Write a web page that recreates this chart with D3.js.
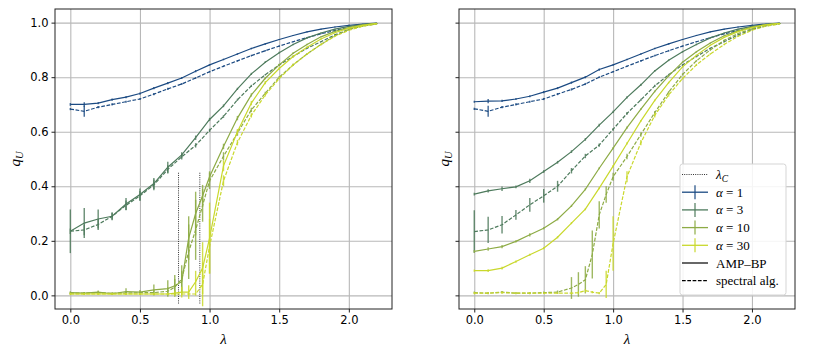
<!DOCTYPE html>
<html>
<head>
<meta charset="utf-8">
<script src="https://cdn.jsdelivr.net/npm/d3@7"></script>
<style>
  body { margin: 0; background: #fff; }
  svg { display: block; }
</style>
</head>
<body>
<div id="grafico"></div>
<script>
// lambda grids
const lam = [0, 0.1, 0.2, 0.3, 0.4, 0.5, 0.6, 0.7, 0.8, 0.9, 1.0, 1.1, 1.2, 1.3, 1.4, 1.5, 1.6, 1.7, 1.8, 1.9, 2.0, 2.1, 2.2];
const lamFine = [0, 0.1, 0.2, 0.3, 0.4, 0.5, 0.6, 0.7, 0.75, 0.8, 0.85, 0.9, 0.95, 1.0, 1.1, 1.2, 1.3, 1.4, 1.5, 1.6, 1.7, 1.8, 1.9, 2.0, 2.1, 2.2];

const alphas = ["1", "3", "10", "30"];
const colores = ["#1b4a82", "#4d7a5c", "#8dab45", "#c9d82c"];

// panel izquierdo (AMP-BP = linea, espectral = guiones)
const L_amp_a1 = [0.700, 0.700, 0.705, 0.718, 0.727, 0.740, 0.760, 0.778, 0.797, 0.822, 0.845, 0.865, 0.885, 0.905, 0.922, 0.938, 0.953, 0.966, 0.976, 0.984, 0.990, 0.995, 0.998];
const L_amp_a1_err = [0.005, 0.008, 0.004, 0.004, 0.004, 0.004, 0.004, 0.004, 0.004, 0.004, 0.003, 0.003, 0.003, 0.003, 0.003, 0.002, 0.002, 0.002, 0.002, 0.002, 0.002, 0.001, 0.001];
const L_spec_a1 = [0.683, 0.675, 0.690, 0.700, 0.710, 0.720, 0.738, 0.757, 0.775, 0.797, 0.820, 0.840, 0.860, 0.879, 0.897, 0.914, 0.930, 0.945, 0.959, 0.971, 0.982, 0.990, 0.997];
const L_spec_a1_err = [0.004, 0.020, 0.004, 0.004, 0.004, 0.004, 0.004, 0.004, 0.004, 0.003, 0.003, 0.003, 0.003, 0.003, 0.003, 0.002, 0.002, 0.002, 0.002, 0.002, 0.002, 0.001, 0.001];

const L_amp_a3 = [0.235, 0.265, 0.280, 0.290, 0.335, 0.370, 0.410, 0.470, 0.515, 0.578, 0.645, 0.695, 0.757, 0.812, 0.855, 0.890, 0.920, 0.944, 0.962, 0.976, 0.986, 0.993, 0.997];
const L_amp_a3_err = [0.080, 0.055, 0.035, 0.015, 0.022, 0.022, 0.020, 0.020, 0.010, 0.008, 0.006, 0.005, 0.004, 0.004, 0.003, 0.003, 0.003, 0.002, 0.002, 0.002, 0.002, 0.001, 0.001];
const L_spec_a3 = [0.235, 0.240, 0.260, 0.290, 0.330, 0.365, 0.405, 0.462, 0.508, 0.550, 0.605, 0.656, 0.717, 0.768, 0.809, 0.845, 0.876, 0.906, 0.930, 0.955, 0.975, 0.988, 0.996];
const L_spec_a3_err = [0.010, 0.020, 0.020, 0.012, 0.018, 0.018, 0.020, 0.015, 0.010, 0.008, 0.006, 0.005, 0.004, 0.004, 0.003, 0.003, 0.003, 0.002, 0.002, 0.002, 0.002, 0.001, 0.001];

const L_amp_a10 = [0.010, 0.008, 0.012, 0.006, 0.014, 0.012, 0.020, 0.025, 0.035, 0.050, 0.210, 0.300, 0.365, 0.435, 0.546, 0.650, 0.735, 0.796, 0.845, 0.888, 0.920, 0.948, 0.968, 0.982, 0.992, 0.997];
const L_amp_a10_err = [0.005, 0.004, 0.006, 0.004, 0.012, 0.008, 0.020, 0.030, 0.040, 0.040, 0.080, 0.080, 0.040, 0.020, 0.010, 0.008, 0.006, 0.004, 0.004, 0.003, 0.003, 0.002, 0.002, 0.002, 0.001, 0.001];
const L_spec_a10 = [0.008, 0.008, 0.010, 0.008, 0.008, 0.010, 0.010, 0.015, 0.030, 0.060, 0.160, 0.240, 0.330, 0.420, 0.510, 0.595, 0.680, 0.741, 0.800, 0.845, 0.885, 0.920, 0.952, 0.975, 0.988, 0.995];
const L_spec_a10_err = [0.004, 0.004, 0.004, 0.004, 0.004, 0.004, 0.010, 0.015, 0.030, 0.050, 0.100, 0.110, 0.060, 0.030, 0.015, 0.010, 0.008, 0.006, 0.004, 0.004, 0.003, 0.003, 0.002, 0.002, 0.001, 0.001];

const L_amp_a30 = [0.005, 0.005, 0.006, 0.005, 0.005, 0.005, 0.005, 0.005, 0.008, 0.012, 0.012, 0.050, 0.100, 0.210, 0.475, 0.600, 0.705, 0.780, 0.832, 0.876, 0.910, 0.940, 0.963, 0.980, 0.990, 0.997];
const L_amp_a30_err = [0.004, 0.004, 0.004, 0.004, 0.004, 0.004, 0.004, 0.004, 0.010, 0.020, 0.025, 0.040, 0.095, 0.130, 0.020, 0.010, 0.008, 0.006, 0.004, 0.004, 0.003, 0.003, 0.002, 0.002, 0.001, 0.001];
const L_spec_a30 = [0.005, 0.005, 0.005, 0.005, 0.005, 0.005, 0.005, 0.005, 0.005, 0.005, 0.005, 0.005, 0.040, 0.180, 0.420, 0.560, 0.660, 0.735, 0.795, 0.845, 0.885, 0.920, 0.950, 0.972, 0.987, 0.995];
const L_spec_a30_err = [0.003, 0.003, 0.003, 0.003, 0.003, 0.003, 0.003, 0.003, 0.004, 0.004, 0.004, 0.006, 0.080, 0.100, 0.020, 0.010, 0.008, 0.006, 0.004, 0.004, 0.003, 0.003, 0.002, 0.002, 0.001, 0.001];

const L_lambdaC = [0.777, 0.930];

// panel derecho
const R_amp_a1 = [0.710, 0.712, 0.713, 0.720, 0.730, 0.745, 0.760, 0.780, 0.800, 0.828, 0.845, 0.865, 0.885, 0.905, 0.922, 0.938, 0.953, 0.966, 0.976, 0.984, 0.990, 0.995, 0.998];
const R_amp_a1_err = [0.004, 0.008, 0.004, 0.004, 0.004, 0.004, 0.004, 0.004, 0.004, 0.004, 0.003, 0.003, 0.003, 0.003, 0.003, 0.002, 0.002, 0.002, 0.002, 0.002, 0.002, 0.001, 0.001];
const R_spec_a1 = [0.684, 0.675, 0.690, 0.700, 0.710, 0.720, 0.738, 0.755, 0.775, 0.800, 0.820, 0.840, 0.860, 0.879, 0.897, 0.914, 0.930, 0.945, 0.959, 0.971, 0.982, 0.990, 0.997];
const R_spec_a1_err = [0.004, 0.020, 0.004, 0.004, 0.004, 0.004, 0.004, 0.004, 0.004, 0.003, 0.003, 0.003, 0.003, 0.003, 0.003, 0.002, 0.002, 0.002, 0.002, 0.002, 0.002, 0.001, 0.001];

const R_amp_a3 = [0.371, 0.383, 0.391, 0.398, 0.420, 0.454, 0.488, 0.527, 0.572, 0.624, 0.673, 0.726, 0.772, 0.823, 0.862, 0.893, 0.920, 0.944, 0.962, 0.976, 0.986, 0.993, 0.997];
const R_amp_a3_err = [0.005, 0.006, 0.008, 0.005, 0.008, 0.005, 0.005, 0.005, 0.005, 0.005, 0.004, 0.004, 0.004, 0.003, 0.003, 0.003, 0.003, 0.002, 0.002, 0.002, 0.002, 0.001, 0.001];
const R_spec_a3 = [0.234, 0.240, 0.259, 0.295, 0.332, 0.365, 0.400, 0.457, 0.511, 0.551, 0.609, 0.667, 0.717, 0.768, 0.809, 0.845, 0.876, 0.906, 0.930, 0.955, 0.975, 0.988, 0.996];
const R_spec_a3_err = [0.078, 0.048, 0.032, 0.018, 0.025, 0.025, 0.020, 0.010, 0.008, 0.006, 0.005, 0.005, 0.004, 0.004, 0.003, 0.003, 0.003, 0.002, 0.002, 0.002, 0.002, 0.001, 0.001];

const R_amp_a10 = [0.161, 0.170, 0.179, 0.198, 0.222, 0.246, 0.279, 0.328, 0.389, 0.466, 0.540, 0.615, 0.683, 0.748, 0.805, 0.855, 0.893, 0.925, 0.952, 0.970, 0.984, 0.993, 0.997];
const R_amp_a10_err = [0.005, 0.006, 0.006, 0.004, 0.006, 0.004, 0.004, 0.004, 0.004, 0.004, 0.004, 0.004, 0.003, 0.003, 0.003, 0.003, 0.003, 0.002, 0.002, 0.002, 0.002, 0.001, 0.001];
const R_spec_a10 = [0.010, 0.008, 0.012, 0.008, 0.008, 0.010, 0.012, 0.027, 0.040, 0.057, 0.150, 0.295, 0.370, 0.435, 0.509, 0.590, 0.670, 0.745, 0.810, 0.860, 0.900, 0.935, 0.960, 0.978, 0.990, 0.996];
const R_spec_a10_err = [0.004, 0.004, 0.004, 0.004, 0.004, 0.004, 0.006, 0.040, 0.045, 0.050, 0.088, 0.050, 0.030, 0.015, 0.010, 0.008, 0.006, 0.004, 0.004, 0.003, 0.003, 0.002, 0.002, 0.002, 0.001, 0.001];

const R_amp_a30 = [0.091, 0.091, 0.100, 0.124, 0.149, 0.173, 0.213, 0.265, 0.316, 0.393, 0.474, 0.557, 0.640, 0.715, 0.780, 0.838, 0.880, 0.917, 0.946, 0.967, 0.982, 0.992, 0.997];
const R_amp_a30_err = [0.004, 0.005, 0.005, 0.004, 0.004, 0.004, 0.004, 0.004, 0.004, 0.004, 0.004, 0.004, 0.003, 0.003, 0.003, 0.003, 0.003, 0.002, 0.002, 0.002, 0.002, 0.001, 0.001];
const R_spec_a30 = [0.008, 0.008, 0.010, 0.008, 0.008, 0.008, 0.008, 0.008, 0.010, 0.017, 0.012, 0.008, 0.040, 0.190, 0.435, 0.560, 0.660, 0.735, 0.795, 0.845, 0.885, 0.920, 0.950, 0.972, 0.987, 0.995];
const R_spec_a30_err = [0.004, 0.003, 0.004, 0.003, 0.003, 0.003, 0.003, 0.004, 0.004, 0.006, 0.004, 0.004, 0.050, 0.100, 0.020, 0.010, 0.008, 0.006, 0.004, 0.004, 0.003, 0.003, 0.002, 0.002, 0.001, 0.001];

const xTicks = [0, 0.5, 1.0, 1.5, 2.0];
const yTicks = [0, 0.2, 0.4, 0.6, 0.8, 1.0];

const legendLabels = ["AMP\u2013BP", "spectral alg."];

const paneles = [
  {
    left: 55, right: 392, ylabels: true, lambdaC: L_lambdaC, legend: false,
    series: [
      { a: 0, dash: false, x: lam, y: L_amp_a1, e: L_amp_a1_err },
      { a: 0, dash: true, x: lam, y: L_spec_a1, e: L_spec_a1_err },
      { a: 1, dash: false, x: lam, y: L_amp_a3, e: L_amp_a3_err },
      { a: 1, dash: true, x: lam, y: L_spec_a3, e: L_spec_a3_err },
      { a: 2, dash: false, x: lamFine, y: L_amp_a10, e: L_amp_a10_err },
      { a: 2, dash: true, x: lamFine, y: L_spec_a10, e: L_spec_a10_err },
      { a: 3, dash: false, x: lamFine, y: L_amp_a30, e: L_amp_a30_err },
      { a: 3, dash: true, x: lamFine, y: L_spec_a30, e: L_spec_a30_err },
    ],
  },
  {
    left: 459, right: 795, ylabels: false, lambdaC: [], legend: true,
    series: [
      { a: 0, dash: false, x: lam, y: R_amp_a1, e: R_amp_a1_err },
      { a: 0, dash: true, x: lam, y: R_spec_a1, e: R_spec_a1_err },
      { a: 1, dash: false, x: lam, y: R_amp_a3, e: R_amp_a3_err },
      { a: 1, dash: true, x: lam, y: R_spec_a3, e: R_spec_a3_err },
      { a: 2, dash: false, x: lam, y: R_amp_a10, e: R_amp_a10_err },
      { a: 2, dash: true, x: lamFine, y: R_spec_a10, e: R_spec_a10_err },
      { a: 3, dash: false, x: lam, y: R_amp_a30, e: R_amp_a30_err },
      { a: 3, dash: true, x: lamFine, y: R_spec_a30, e: R_spec_a30_err },
    ],
  },
];

const width = 831;
const height = 357;
const plotTop = 9;
const plotBottom = 309;

const svg = d3
  .select("#grafico")
  .append("svg")
  .attr("width", width)
  .attr("height", height);

paneles.forEach((p) => {
  const x = d3.scaleLinear().domain([-0.11, 2.31]).range([p.left, p.right]);
  const y = d3.scaleLinear().domain([-0.05, 1.05]).range([plotBottom, plotTop]);

  const g = svg.append("g");

  // grilla
  g.append("g")
    .attr("transform", `translate(0,${plotBottom})`)
    .call(d3.axisBottom(x).tickValues(xTicks).tickSize(-(plotBottom - plotTop)).tickFormat(""))
    .call((s) => s.select(".domain").remove())
    .selectAll("line")
    .attr("stroke", "#b8b8b8")
    .attr("stroke-width", 1.1);
  g.append("g")
    .attr("transform", `translate(${p.left},0)`)
    .call(d3.axisLeft(y).tickValues(yTicks).tickSize(-(p.right - p.left)).tickFormat(""))
    .call((s) => s.select(".domain").remove())
    .selectAll("line")
    .attr("stroke", "#b8b8b8")
    .attr("stroke-width", 1.1);

  // lineas lambda_c
  g.append("g")
    .selectAll("line")
    .data(p.lambdaC)
    .join("line")
    .attr("x1", (d) => x(d))
    .attr("x2", (d) => x(d))
    .attr("y1", y(-0.03))
    .attr("y2", y(0.45))
    .attr("stroke", "#333")
    .attr("stroke-width", 1)
    .attr("stroke-dasharray", "1,1.2");

  // series
  const line = d3.line().x((d) => x(d[0])).y((d) => y(d[1]));
  p.series.forEach((s) => {
    const pts = s.x.map((v, i) => [v, s.y[i], s.e[i]]);
    const col = colores[s.a];
    g.append("path")
      .datum(pts)
      .attr("d", line)
      .attr("fill", "none")
      .attr("stroke", col)
      .attr("stroke-width", 1.2)
      .attr("stroke-dasharray", s.dash ? "3.7,1.6" : null);
    g.append("g")
      .selectAll("line")
      .data(pts)
      .join("line")
      .attr("x1", (d) => x(d[0]))
      .attr("x2", (d) => x(d[0]))
      .attr("y1", (d) => y(d[1] - d[2]))
      .attr("y2", (d) => y(d[1] + d[2]))
      .attr("stroke", col)
      .attr("stroke-opacity", 0.85)
      .attr("stroke-width", 1.4);
  });

  // marco
  g.append("rect")
    .attr("x", p.left)
    .attr("y", plotTop)
    .attr("width", p.right - p.left)
    .attr("height", plotBottom - plotTop)
    .attr("fill", "none")
    .attr("stroke", "#222")
    .attr("stroke-width", 1);

  // eje X
  const ax = g.append("g")
    .attr("transform", `translate(0,${plotBottom})`)
    .call(d3.axisBottom(x).tickValues(xTicks).tickSize(3.5).tickPadding(3).tickFormat(d3.format(".1f")));
  ax.select(".domain").remove();
  ax.selectAll("text").style("font-family", "DejaVu Sans").style("font-size", "11.5px").attr("fill", "#000");
  ax.selectAll("line").attr("stroke", "#222");

  // eje Y
  const ay = g.append("g")
    .attr("transform", `translate(${p.left},0)`)
    .call(d3.axisLeft(y).tickValues(yTicks).tickSize(3.5).tickPadding(3)
      .tickFormat(p.ylabels ? d3.format(".1f") : ""));
  ay.select(".domain").remove();
  ay.selectAll("text").style("font-family", "DejaVu Sans").style("font-size", "11.5px").attr("fill", "#000");
  ay.selectAll("line").attr("stroke", "#222");

  // etiquetas de ejes
  g.append("text")
    .attr("x", (p.left + p.right) / 2)
    .attr("y", 344)
    .attr("text-anchor", "middle")
    .style("font-family", "Liberation Serif")
    .style("font-style", "italic")
    .style("font-size", "15px")
    .text("\u03bb");

  const yl = g.append("text")
    .attr("transform", `translate(${p.ylabels ? 20 : p.left - 10},${(plotTop + plotBottom) / 2}) rotate(-90)`)
    .attr("text-anchor", "middle")
    .style("font-family", "Liberation Serif")
    .style("font-style", "italic")
    .style("font-size", "15px");
  yl.append("tspan").text("q");
  yl.append("tspan").attr("font-size", "10.5px").attr("dy", 3).text("U");

  if (p.legend) {
    const lg = svg.append("g").attr("transform", "translate(680,164)");
    lg.append("rect")
      .attr("width", 106)
      .attr("height", 131)
      .attr("rx", 2.5)
      .attr("fill", "#fff")
      .attr("fill-opacity", 0.85)
      .attr("stroke", "#d5d5d5");
    const rowY = (i) => 10.5 + i * 17.7;
    const txt = (i) =>
      lg.append("text")
        .attr("x", 36)
        .attr("y", rowY(i) + 4.5)
        .style("font-family", "Liberation Serif")
        .style("font-size", "13px")
        .attr("fill", "#000");

    // lambda_c
    lg.append("line").attr("x1", 2).attr("x2", 28).attr("y1", rowY(0)).attr("y2", rowY(0))
      .attr("stroke", "#333").attr("stroke-dasharray", "1,1.2");
    const t0 = txt(0);
    t0.append("tspan").style("font-style", "italic").text("\u03bb");
    t0.append("tspan").style("font-style", "italic").attr("font-size", "9.5px").attr("dy", 3).text("C");

    alphas.forEach((a, i) => {
      const yy = rowY(i + 1);
      lg.append("line").attr("x1", 2).attr("x2", 28).attr("y1", yy).attr("y2", yy)
        .attr("stroke", colores[i]).attr("stroke-width", 1.3);
      lg.append("line").attr("x1", 15).attr("x2", 15).attr("y1", yy - 7).attr("y2", yy + 7)
        .attr("stroke", colores[i]).attr("stroke-width", 1.4).attr("stroke-opacity", 0.85);
      const t = txt(i + 1);
      t.append("tspan").style("font-style", "italic").text("\u03b1");
      t.append("tspan").text(" = " + a);
    });

    lg.append("line").attr("x1", 2).attr("x2", 28).attr("y1", rowY(5)).attr("y2", rowY(5))
      .attr("stroke", "#000").attr("stroke-width", 1.2);
    txt(5).text(legendLabels[0]);
    lg.append("line").attr("x1", 2).attr("x2", 28).attr("y1", rowY(6)).attr("y2", rowY(6))
      .attr("stroke", "#000").attr("stroke-width", 1.2).attr("stroke-dasharray", "3.7,1.6");
    txt(6).text(legendLabels[1]);
  }
});
</script>
</body>
</html>
